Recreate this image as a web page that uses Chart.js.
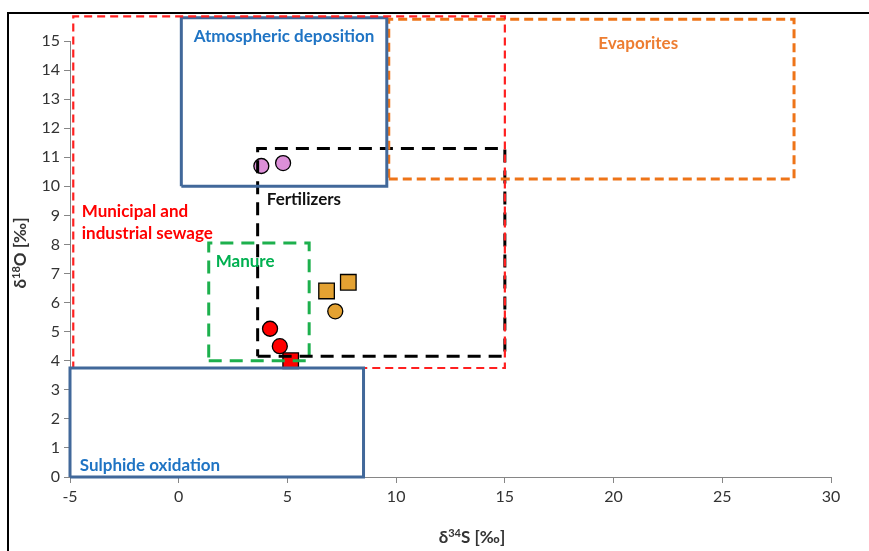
<!DOCTYPE html>
<html>
<head>
<meta charset="utf-8">
<script src="https://cdn.jsdelivr.net/npm/chart.js@4/dist/chart.umd.min.js"></script>
<style>
  html, body { margin: 0; padding: 0; background: #fff; }
  #wrap { width: 869px; height: 551px; }
</style>
</head>
<body>
<div id="wrap"><canvas id="chart" width="869" height="551"></canvas></div>
<script>
// 数据：δ34S / δ18O 测量点
const pinkPoints = [{ x: 3.8, y: 10.7 }, { x: 4.8, y: 10.8 }];
const orangeSquares = [{ x: 6.8, y: 6.4 }, { x: 7.8, y: 6.7 }];
const orangeCircles = [{ x: 7.2, y: 5.7 }];
const redCircles = [{ x: 4.2, y: 5.1 }, { x: 4.65, y: 4.5 }];
const redSquares = [{ x: 5.15, y: 4.0 }];

// 来源范围框 [xmin, xmax, ymin, ymax]
const sewageBox = [-4.85, 15.0, 3.75, 15.85];
const atmosphericBox = [0.12, 9.57, 10.0, 15.8];
const evaporitesBox = [9.66, 28.3, 10.25, 15.75];
const fertilizersBox = [3.63, 15.0, 4.15, 11.3];
const manureBox = [1.38, 6.0, 4.0, 8.05];
const sulphideBox = [-5.0, 8.5, 0, 3.75];

// 坐标轴刻度
const xTicks = [-5, 0, 5, 10, 15, 20, 25, 30];
const yTicks = [0, 1, 2, 3, 4, 5, 6, 7, 8, 9, 10, 11, 12, 13, 14, 15];

// 坐标轴标题 [前缀, 上标, 后缀]
const xTitle = ['δ', '34', 'S [‰]'];
const yTitle = ['δ', '18', 'O [‰]'];

// 区域标签 [文本, x, y, 颜色]
const boxLabels = [
    ['Atmospheric deposition', 0.69, 15.17, '#1f74c4'],
    ['Evaporites', 19.3, 14.93, '#ed7d31'],
    ['Fertilizers', 4.05, 9.56, '#111111'],
    ['Municipal and', -4.46, 9.12, '#ff0000'],
    ['industrial sewage', -4.46, 8.39, '#ff0000'],
    ['Manure', 1.7, 7.4, '#00b050'],
    ['Sulphide oxidation', -4.55, 0.38, '#1f74c4']
];

const FONT = 'Lato, "Open Sans", "DejaVu Sans", sans-serif';

function rect(b) {
    return [
        { x: b[0], y: b[2] }, { x: b[1], y: b[2] },
        { x: b[1], y: b[3] }, { x: b[0], y: b[3] },
        { x: b[0], y: b[2] }
    ];
}

function boxSet(b, color, width, dash) {
    return {
        data: rect(b),
        showLine: true,
        fill: false,
        borderColor: color,
        borderWidth: width,
        borderDash: dash,
        pointRadius: 0,
        clip: false,
        order: 1
    };
}

function pointSet(data, color, style, radius) {
    return {
        data: data,
        showLine: false,
        backgroundColor: color,
        borderColor: '#000',
        borderWidth: 1.3,
        pointStyle: style,
        pointRadius: radius,
        order: 2
    };
}

// 带上标的标题，以 (cx, cy) 为中心
function drawSupTitle(ctx, parts, cx, cy) {
    const big = 'bold 17px ' + FONT, small = 'bold 11px ' + FONT;
    ctx.font = big;
    const w1 = ctx.measureText(parts[0]).width;
    const w3 = ctx.measureText(parts[2]).width;
    ctx.font = small;
    const w2 = ctx.measureText(parts[1]).width;
    let x = cx - (w1 + w2 + w3) / 2;
    ctx.textAlign = 'left';
    ctx.textBaseline = 'middle';
    ctx.font = big;
    ctx.fillText(parts[0], x, cy);
    x += w1;
    ctx.font = small;
    ctx.fillText(parts[1], x, cy - 5);
    x += w2;
    ctx.font = big;
    ctx.fillText(parts[2], x, cy);
}

// 外框、标题与标签
const framePlugin = {
    id: 'frame',
    beforeDraw(chart) {
        const ctx = chart.ctx;
        ctx.save();
        ctx.fillStyle = '#fff';
        ctx.fillRect(0, 0, chart.width, chart.height);
        ctx.strokeStyle = '#000';
        ctx.lineWidth = 2;
        ctx.beginPath();
        ctx.moveTo(8, chart.height);
        ctx.lineTo(8, 13);
        ctx.lineTo(chart.width, 13);
        ctx.stroke();
        ctx.restore();
    },
    afterDatasetsDraw(chart) {
        const ctx = chart.ctx;
        const xs = chart.scales.x, ys = chart.scales.y;
        ctx.save();
        ctx.font = 'bold 17px ' + FONT;
        ctx.textAlign = 'left';
        ctx.textBaseline = 'middle';
        boxLabels.forEach(l => {
            ctx.fillStyle = l[3];
            ctx.fillText(l[0], xs.getPixelForValue(l[1]), ys.getPixelForValue(l[2]));
        });

        ctx.fillStyle = '#333';
        drawSupTitle(ctx, xTitle, 472, 538);
        ctx.translate(21, 253);
        ctx.rotate(-Math.PI / 2);
        drawSupTitle(ctx, yTitle, 0, 0);
        ctx.restore();
    }
};

new Chart(document.getElementById('chart').getContext('2d'), {
    type: 'scatter',
    data: {
        datasets: [
            boxSet(sulphideBox, '#41689a', 3, []),
            boxSet(sewageBox, '#ff2020', 2.2, [8, 5]),
            boxSet(atmosphericBox, '#41689a', 3, []),
            boxSet(evaporitesBox, '#ee7418', 3, [9, 5]),
            boxSet(fertilizersBox, '#000000', 3, [13, 8]),
            boxSet(manureBox, '#1db04d', 3, [13, 8]),
            pointSet(pinkPoints, '#dc8fd8', 'circle', 7.5),
            pointSet(orangeSquares, '#e4a232', 'rect', 11),
            pointSet(orangeCircles, '#e4a232', 'circle', 7.5),
            pointSet(redCircles, '#ff0000', 'circle', 7.5),
            pointSet(redSquares, '#ff0000', 'rect', 11)
        ]
    },
    options: {
        responsive: false,
        animation: false,
        devicePixelRatio: 1,
        layout: {
            padding: { top: 41, right: 38, left: 0, bottom: 0 }
        },
        scales: {
            x: {
                type: 'linear',
                min: -5,
                max: 30,
                afterFit(scale) { scale.height = 74; },
                afterBuildTicks(scale) { scale.ticks = xTicks.map(v => ({ value: v })); },
                grid: { display: true, drawOnChartArea: false, tickLength: 6, color: '#868686' },
                border: { color: '#868686', width: 1 },
                ticks: { color: '#333', font: { family: FONT, size: 16 }, padding: 4 },
                title: { display: false }
            },
            y: {
                type: 'linear',
                min: 0,
                max: 15,
                afterFit(scale) { scale.width = 70; },
                afterBuildTicks(scale) { scale.ticks = yTicks.map(v => ({ value: v })); },
                grid: { display: true, drawOnChartArea: false, tickLength: 6, color: '#868686' },
                border: { color: '#868686', width: 1 },
                ticks: { color: '#333', font: { family: FONT, size: 16 }, padding: 4 },
                title: { display: false }
            }
        },
        plugins: {
            legend: { display: false },
            tooltip: { enabled: false }
        }
    },
    plugins: [framePlugin]
});
</script>
</body>
</html>
